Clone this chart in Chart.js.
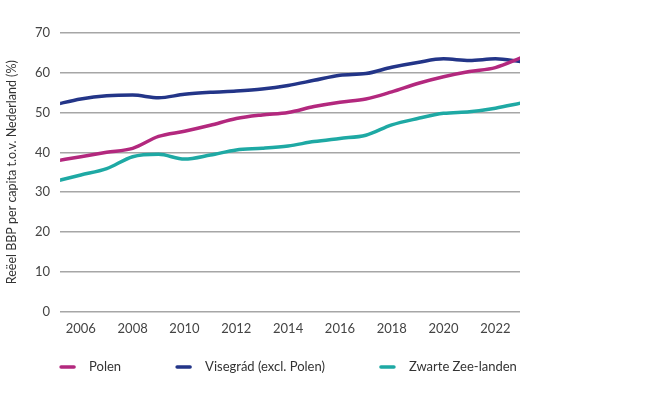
<!DOCTYPE html>
<html>
<head>
<meta charset="utf-8">
<script src="https://cdn.jsdelivr.net/npm/chart.js@4"></script>
<style>
  html, body { margin: 0; padding: 0; background: #fff; }
  #wrap { width: 668px; height: 397px; position: relative; }
</style>
</head>
<body>
<div id="wrap"><canvas id="chart"></canvas></div>
<script>
// Reëel BBP per capita t.o.v. Nederland (%)
const YEARS = [2005, 2006, 2007, 2008, 2009, 2010, 2011, 2012, 2013, 2014,
               2015, 2016, 2017, 2018, 2019, 2020, 2021, 2022, 2023];
const POLEN = [37.8, 38.9, 40.0, 41.0, 44.0, 45.3, 46.8, 48.5, 49.4, 50.0,
               51.5, 52.6, 53.4, 55.2, 57.3, 59.0, 60.3, 61.3, 63.8];
const VISEGRAD = [52.0, 53.4, 54.2, 54.4, 53.7, 54.6, 55.1, 55.4, 55.9, 56.8,
                  58.1, 59.4, 59.8, 61.4, 62.6, 63.5, 63.1, 63.5, 62.8];
const ZWARTE_ZEE = [32.7, 34.3, 35.9, 38.9, 39.5, 38.3, 39.3, 40.6, 41.0, 41.6,
                    42.7, 43.5, 44.3, 46.9, 48.5, 49.8, 50.2, 51.1, 52.4];
const SERIES_NAMES = ['Polen', 'Visegrád (excl. Polen)', 'Zwarte Zee-landen'];
const SERIES_COLORS = ['#b3287e', '#233588', '#1ea9a4'];
const X_TICKS = [2006, 2008, 2010, 2012, 2014, 2016, 2018, 2020, 2022];

const FONT = 'Lato, "Open Sans", sans-serif';

function toPoints(values) {
  return values.map((v, i) => ({ x: YEARS[i], y: v }));
}

// simple legend drawn under the plot, starting at the chart area's left edge
const bottomLegend = {
  id: 'bottomLegend',
  afterDraw(chart) {
    const ctx = chart.ctx;
    const y = 367;
    let x = chart.chartArea.left;
    ctx.save();
    ctx.font = '13px ' + FONT;
    ctx.textBaseline = 'middle';
    chart.data.datasets.forEach(ds => {
      ctx.strokeStyle = ds.borderColor;
      ctx.lineWidth = 3.5;
      ctx.lineCap = 'round';
      ctx.beginPath();
      ctx.moveTo(x + 1, y);
      ctx.lineTo(x + 14, y);
      ctx.stroke();
      ctx.fillStyle = '#333';
      ctx.fillText(ds.label, x + 29, y);
      x += 29 + ctx.measureText(ds.label).width + 55;
    });
    ctx.restore();
  }
};

const datasets = [POLEN, VISEGRAD, ZWARTE_ZEE].map((values, i) => ({
  label: SERIES_NAMES[i],
  data: toPoints(values),
  borderColor: SERIES_COLORS[i],
  backgroundColor: SERIES_COLORS[i],
  borderWidth: 3.5,
  pointRadius: 0,
  tension: 0.4,
  cubicInterpolationMode: 'monotone'
}));

new Chart(document.getElementById('chart'), {
  type: 'line',
  data: { datasets },
  plugins: [bottomLegend],
  options: {
    responsive: true,
    maintainAspectRatio: false,
    animation: false,
    layout: { padding: { top: 33, right: 148, bottom: 50, left: 4 } },
    plugins: {
      legend: { display: false },
      tooltip: { enabled: false }
    },
    scales: {
      x: {
        type: 'linear',
        min: 2005.2,
        max: 2022.95,
        afterBuildTicks: axis => { axis.ticks = X_TICKS.map(v => ({ value: v })); },
        grid: { display: false, drawTicks: false },
        border: { display: false },
        ticks: {
          padding: 10,
          color: '#444',
          font: { family: FONT, size: 13 },
          callback: v => String(v)
        }
      },
      y: {
        min: 0,
        max: 70,
        ticks: {
          stepSize: 10,
          padding: 10,
          color: '#444',
          font: { family: FONT, size: 13 }
        },
        grid: { color: '#a6a6a6', lineWidth: 1.5, drawTicks: false },
        border: { display: false },
        title: {
          display: true,
          text: 'Reëel BBP per capita t.o.v. Nederland (%)',
          color: '#333',
          font: { family: FONT, size: 12.5 },
          padding: { top: 0, bottom: 6 }
        }
      }
    }
  }
});
</script>
</body>
</html>
